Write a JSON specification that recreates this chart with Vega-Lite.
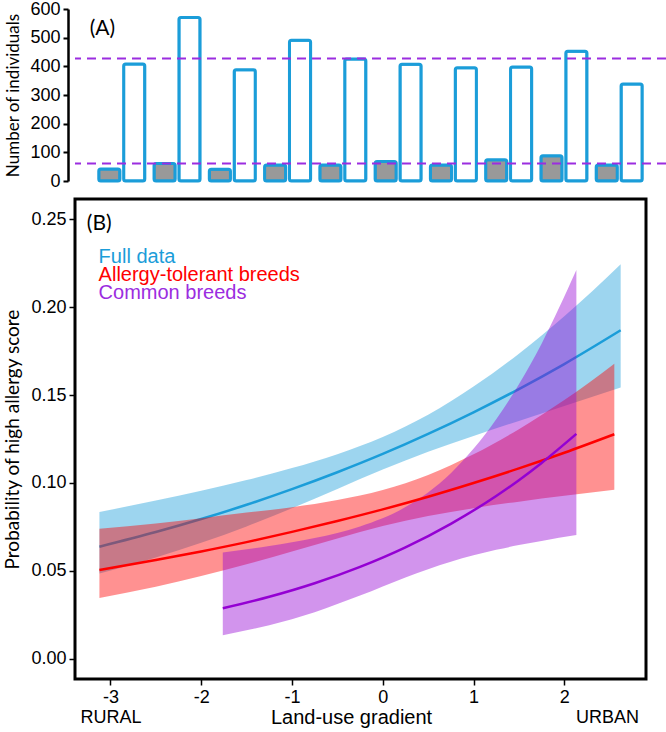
{
  "$schema": "https://vega.github.io/schema/vega-lite/v6.json",
  "padding": {"left": 2, "top": 0, "right": 0, "bottom": 0},
  "background": "white",
  "config": {
    "font": "Liberation Sans",
    "view": {"stroke": null},
    "axis": {"grid": false, "labelColor": "#000", "titleColor": "#000", "domainColor": "#000", "tickColor": "#000", "titleFontWeight": "normal", "labelFont": "Liberation Sans", "titleFont": "Lato", "labelOverlap": false}
  },
  "spacing": 7,
  "datasets": {
    "counts": [
      {"site": 1, "breed": "Allergy-tolerant", "n": 42}, {"site": 1, "breed": "Common", "n": 408},
      {"site": 2, "breed": "Allergy-tolerant", "n": 61}, {"site": 2, "breed": "Common", "n": 570},
      {"site": 3, "breed": "Allergy-tolerant", "n": 41}, {"site": 3, "breed": "Common", "n": 388},
      {"site": 4, "breed": "Allergy-tolerant", "n": 56}, {"site": 4, "breed": "Common", "n": 491},
      {"site": 5, "breed": "Allergy-tolerant", "n": 56}, {"site": 5, "breed": "Common", "n": 426},
      {"site": 6, "breed": "Allergy-tolerant", "n": 68}, {"site": 6, "breed": "Common", "n": 407},
      {"site": 7, "breed": "Allergy-tolerant", "n": 56}, {"site": 7, "breed": "Common", "n": 395},
      {"site": 8, "breed": "Allergy-tolerant", "n": 74}, {"site": 8, "breed": "Common", "n": 398},
      {"site": 9, "breed": "Allergy-tolerant", "n": 88}, {"site": 9, "breed": "Common", "n": 453},
      {"site": 10, "breed": "Allergy-tolerant", "n": 56}, {"site": 10, "breed": "Common", "n": 338}
    ],
    "means": [
      {"breed": "Allergy-tolerant", "mean": 61},
      {"breed": "Common", "mean": 427}
    ],
    "curves": [
      {"series": "Full data", "x": -3.121, "p": 0.0638, "lo": 0.0485, "hi": 0.0835},
      {"series": "Full data", "x": -2.5, "p": 0.0721, "lo": 0.0576, "hi": 0.0900},
      {"series": "Full data", "x": -2, "p": 0.0795, "lo": 0.0660, "hi": 0.0956},
      {"series": "Full data", "x": -1.5, "p": 0.0876, "lo": 0.0753, "hi": 0.1017},
      {"series": "Full data", "x": -1, "p": 0.0965, "lo": 0.0856, "hi": 0.1085},
      {"series": "Full data", "x": -0.5, "p": 0.1061, "lo": 0.0966, "hi": 0.1164},
      {"series": "Full data", "x": 0, "p": 0.1165, "lo": 0.1076, "hi": 0.1261},
      {"series": "Full data", "x": 0.5, "p": 0.1279, "lo": 0.1177, "hi": 0.1388},
      {"series": "Full data", "x": 1, "p": 0.1402, "lo": 0.1267, "hi": 0.1548},
      {"series": "Full data", "x": 1.5, "p": 0.1534, "lo": 0.1353, "hi": 0.1735},
      {"series": "Full data", "x": 2, "p": 0.1676, "lo": 0.1437, "hi": 0.1947},
      {"series": "Full data", "x": 2.621, "p": 0.1868, "lo": 0.1543, "hi": 0.2243},
      {"series": "Allergy-tolerant breeds", "x": -3.121, "p": 0.0506, "lo": 0.0347, "hi": 0.0740},
      {"series": "Allergy-tolerant breeds", "x": -2.5, "p": 0.0562, "lo": 0.0411, "hi": 0.0770},
      {"series": "Allergy-tolerant breeds", "x": -2, "p": 0.0611, "lo": 0.0471, "hi": 0.0800},
      {"series": "Allergy-tolerant breeds", "x": -1.5, "p": 0.0664, "lo": 0.0538, "hi": 0.0832},
      {"series": "Allergy-tolerant breeds", "x": -1, "p": 0.0722, "lo": 0.0610, "hi": 0.0862},
      {"series": "Allergy-tolerant breeds", "x": -0.5, "p": 0.0784, "lo": 0.0685, "hi": 0.0903},
      {"series": "Allergy-tolerant breeds", "x": 0, "p": 0.0850, "lo": 0.0755, "hi": 0.0960},
      {"series": "Allergy-tolerant breeds", "x": 0.5, "p": 0.0922, "lo": 0.0812, "hi": 0.1046},
      {"series": "Allergy-tolerant breeds", "x": 1, "p": 0.1000, "lo": 0.0857, "hi": 0.1163},
      {"series": "Allergy-tolerant breeds", "x": 1.5, "p": 0.1083, "lo": 0.0894, "hi": 0.1306},
      {"series": "Allergy-tolerant breeds", "x": 2, "p": 0.1172, "lo": 0.0927, "hi": 0.1471},
      {"series": "Allergy-tolerant breeds", "x": 2.551, "p": 0.1277, "lo": 0.0961, "hi": 0.1678},
      {"series": "Common breeds", "x": -1.762, "p": 0.0288, "lo": 0.0135, "hi": 0.0605},
      {"series": "Common breeds", "x": -1.25, "p": 0.0353, "lo": 0.0192, "hi": 0.0642},
      {"series": "Common breeds", "x": -0.75, "p": 0.0430, "lo": 0.0266, "hi": 0.0687},
      {"series": "Common breeds", "x": -0.25, "p": 0.0523, "lo": 0.0360, "hi": 0.0753},
      {"series": "Common breeds", "x": 0.25, "p": 0.0634, "lo": 0.0463, "hi": 0.0863},
      {"series": "Common breeds", "x": 0.75, "p": 0.0768, "lo": 0.0553, "hi": 0.1056},
      {"series": "Common breeds", "x": 1.25, "p": 0.0926, "lo": 0.0620, "hi": 0.1362},
      {"series": "Common breeds", "x": 1.5, "p": 0.1016, "lo": 0.0647, "hi": 0.1561},
      {"series": "Common breeds", "x": 1.75, "p": 0.1114, "lo": 0.0671, "hi": 0.1792},
      {"series": "Common breeds", "x": 2.133, "p": 0.1279, "lo": 0.0704, "hi": 0.2210}
    ],
    "panelA": [{"label": "(A)"}],
    "panelB": [{"label": "(B)"}],
    "key1": [{"label": "Full data"}],
    "key2": [{"label": "Allergy-tolerant breeds"}],
    "key3": [{"label": "Common breeds"}]
  },
  "vconcat": [
    {
      "width": 591,
      "height": 172,
      "resolve": {"axis": {"y": "independent", "x": "independent"}},
      "layer": [
        {
          "data": {"name": "counts"},
          "mark": {"type": "bar", "stroke": "#1B9DD9", "strokeWidth": 3, "cornerRadius": 2},
          "encoding": {
            "x": {"field": "site", "type": "ordinal", "axis": null, "scale": {"paddingInner": 0.167, "paddingOuter": 0.43}},
            "xOffset": {"field": "breed", "type": "nominal", "sort": ["Allergy-tolerant", "Common"], "scale": {"paddingInner": 0.15, "paddingOuter": 0}},
            "y": {"field": "n", "type": "quantitative", "scale": {"domain": [0, 600], "nice": false},
              "axis": {"values": [0, 100, 200, 300, 400, 500, 600], "tickCount": 7, "labelOverlap": false, "title": "Number of individuals", "titleFontSize": 17, "labelFontSize": 18, "offset": 7, "domainWidth": 2.5, "tickWidth": 2, "tickSize": 5, "labelPadding": 3, "titlePadding": 7}},
            "fill": {"field": "breed", "type": "nominal", "scale": {"domain": ["Allergy-tolerant", "Common"], "range": ["#999999", "#ffffff"]}, "legend": null}
          }
        },
        {
          "data": {"name": "means"},
          "mark": {"type": "rule", "color": "#9B2DE0", "strokeWidth": 2, "strokeDash": [9, 6]},
          "encoding": {"y": {"field": "mean", "type": "quantitative", "axis": null}}
        },
        {
          "data": {"name": "panelA"},
          "mark": {"type": "text", "align": "left", "baseline": "alphabetic", "font": "Lato", "fontSize": 21, "color": "#000", "dx": -9},
          "encoding": {"text": {"field": "label"}, "x": {"datum": 1, "type": "ordinal", "bandPosition": 0, "axis": null}, "y": {"datum": 508, "axis": null}}
        }
      ]
    },
    {
      "width": 571,
      "height": 480,
      "view": {"stroke": "#000", "strokeWidth": 3},
      "layer": [
        {
          "data": {"name": "curves"},
          "transform": [{"filter": "datum.series == 'Full data'"}],
          "mark": {"type": "area", "opacity": 0.43, "interpolate": "monotone"},
          "encoding": {
            "x": {"field": "x", "type": "quantitative", "scale": {"domain": [-3.39, 2.9], "nice": false, "zero": false},
              "axis": {"values": [-3, -2, -1, 0, 1, 2, 2.47], "labelExpr": "datum.value == -3 ? ['-3', 'RURAL'] : datum.value > 2.4 ? ['', 'URBAN'] : '' + datum.value", "labelOverlap": false, "labelFontSize": 18, "labelLineHeight": 20, "tickSize": 6, "tickWidth": 1.5, "tickOpacity": {"condition": {"test": "datum.value > 2.4", "value": 0}, "value": 1}, "domain": false, "labelPadding": 3, "title": "Land-use gradient", "titleFont": "Liberation Sans", "titleFontSize": 20, "titleX": 276, "titleY": 44, "titleBaseline": "alphabetic", "titleAlign": "center"}},
            "y": {"field": "lo", "type": "quantitative", "scale": {"domain": [-0.0114, 0.2614], "nice": false, "zero": false},
              "axis": {"values": [0, 0.05, 0.1, 0.15, 0.2, 0.25], "format": ".2f", "labelOverlap": false, "labelFontSize": 18, "tickSize": 6, "tickWidth": 1.5, "domain": false, "labelPadding": 3, "title": "Probability of high allergy score", "titleFontSize": 19, "titlePadding": 8}},
            "y2": {"field": "hi"},
            "color": {"field": "series", "type": "nominal",
              "scale": {"domain": ["Full data", "Allergy-tolerant breeds", "Common breeds"], "range": ["#1B9DD9", "#FF0000", "#9400D3"]},
              "legend": null}
          }
        },
        {
          "data": {"name": "curves"},
          "transform": [{"filter": "datum.series == 'Full data'"}],
          "mark": {"type": "line", "strokeWidth": 2.5, "interpolate": "monotone"},
          "encoding": {"x": {"field": "x", "type": "quantitative"}, "y": {"field": "p", "type": "quantitative"}, "color": {"field": "series", "type": "nominal"}}
        },
        {
          "data": {"name": "curves"},
          "transform": [{"filter": "datum.series == 'Allergy-tolerant breeds'"}],
          "mark": {"type": "area", "opacity": 0.43, "interpolate": "monotone"},
          "encoding": {"x": {"field": "x", "type": "quantitative"}, "y": {"field": "lo", "type": "quantitative"}, "y2": {"field": "hi"}, "color": {"field": "series", "type": "nominal"}}
        },
        {
          "data": {"name": "curves"},
          "transform": [{"filter": "datum.series == 'Common breeds'"}],
          "mark": {"type": "area", "opacity": 0.42, "interpolate": "monotone"},
          "encoding": {"x": {"field": "x", "type": "quantitative"}, "y": {"field": "lo", "type": "quantitative"}, "y2": {"field": "hi"}, "color": {"field": "series", "type": "nominal"}}
        },
        {
          "data": {"name": "curves"},
          "transform": [{"filter": "datum.series == 'Allergy-tolerant breeds'"}],
          "mark": {"type": "line", "strokeWidth": 2.5, "interpolate": "monotone"},
          "encoding": {"x": {"field": "x", "type": "quantitative"}, "y": {"field": "p", "type": "quantitative"}, "color": {"field": "series", "type": "nominal"}}
        },
        {
          "data": {"name": "curves"},
          "transform": [{"filter": "datum.series == 'Common breeds'"}],
          "mark": {"type": "line", "strokeWidth": 2.5, "interpolate": "monotone"},
          "encoding": {"x": {"field": "x", "type": "quantitative"}, "y": {"field": "p", "type": "quantitative"}, "color": {"field": "series", "type": "nominal"}}
        },
        {
          "data": {"name": "panelB"},
          "mark": {"type": "text", "align": "left", "baseline": "alphabetic", "font": "Lato", "fontSize": 21, "color": "#000"},
          "encoding": {"text": {"field": "label"}, "x": {"datum": -3.26}, "y": {"datum": 0.2436}}
        },
        {
          "data": {"name": "key1"},
          "mark": {"type": "text", "align": "left", "baseline": "alphabetic", "fontSize": 20, "color": "#1B9DD9"},
          "encoding": {"text": {"field": "label"}, "x": {"datum": -3.13}, "y": {"datum": 0.2250}}
        },
        {
          "data": {"name": "key2"},
          "mark": {"type": "text", "align": "left", "baseline": "alphabetic", "fontSize": 20, "color": "#FF0000"},
          "encoding": {"text": {"field": "label"}, "x": {"datum": -3.13}, "y": {"datum": 0.2148}}
        },
        {
          "data": {"name": "key3"},
          "mark": {"type": "text", "align": "left", "baseline": "alphabetic", "fontSize": 20, "color": "#9B2DE0"},
          "encoding": {"text": {"field": "label"}, "x": {"datum": -3.13}, "y": {"datum": 0.2045}}
        }
      ]
    }
  ]
}
